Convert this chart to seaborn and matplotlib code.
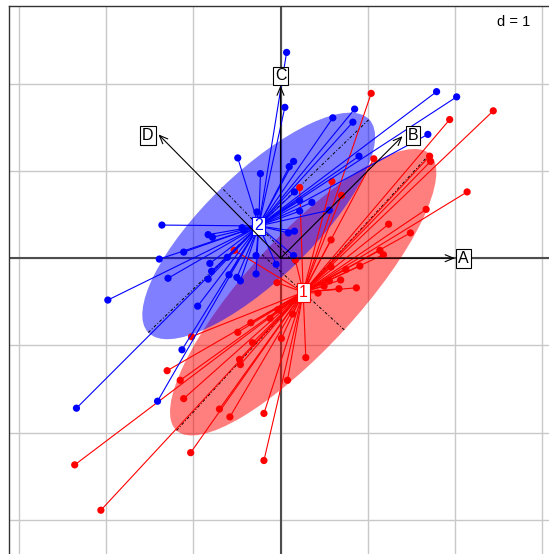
import numpy as np
import pandas as pd
import matplotlib
matplotlib.use("Agg")
import matplotlib.pyplot as plt
from matplotlib.patches import Ellipse
import seaborn as sns

# ---------------- data ----------------
group1_x = [1.04, 1.94, 2.44, 1.07, 1.71, 1.72, 0.59, 0.22, 2.14, 0.70,
            1.67, 1.24, 1.49, 0.58, 1.14, 1.18, 0.17, 0.91, 0.75, 0.58,
            0.69, 0.56, 0.50, 0.87, 0.67, 0.43, 0.14, -0.53, -0.04, -1.02,
            -1.30, -1.15, -1.11, -0.49, -0.34, -0.12, -0.03, -0.32, 0.01, -0.47,
            -0.46, 0.29, 0.08, -0.70, -0.58, -0.19, -2.36, -1.03, -0.19, -2.06]
group1_y = [1.89, 1.59, 1.69, 1.14, 1.17, 1.11, 0.88, 0.81, 0.76, 0.72,
            0.56, 0.39, 0.29, 0.21, 0.09, 0.04, -0.02, -0.09, -0.13, -0.10,
            -0.25, -0.26, -0.32, -0.34, -0.35, -0.40, -0.64, 0.09, -0.28, -0.90,
            -1.29, -1.40, -1.61, -0.85, -0.74, -0.69, -0.59, -0.97, -0.92, -1.16,
            -1.22, -1.14, -1.40, -1.73, -1.82, -1.78, -2.37, -2.23, -2.32, -2.89]

group2_x = [0.07, 0.05, 1.79, 2.02, 0.85, 0.60, 0.83, 1.69, 0.90, 0.15,
            0.10, 0.16, -0.49, -0.23, 0.22, 0.36, 0.22, 0.56, -0.27, 0.16,
            0.09, 0.15, -0.83, -0.78, -0.44, -0.42, -1.11, -0.61, -0.28, -0.05,
            -0.81, -0.59, -0.28, -0.79, -0.83, -0.50, -0.46, -1.36, -1.39, -1.29,
            -1.98, -0.95, -1.13, -1.41, -2.34]
group2_y = [2.36, 1.73, 1.91, 1.85, 1.71, 1.61, 1.56, 1.42, 1.17, 1.11,
            1.05, 0.76, 1.15, 0.97, 0.66, 0.64, 0.54, 0.55, 0.53, 0.31,
            0.29, 0.03, 0.27, 0.24, 0.35, 0.32, 0.07, 0.01, 0.03, -0.07,
            -0.06, -0.19, -0.18, -0.15, -0.24, -0.22, -0.26, 0.38, -0.01, -0.23,
            -0.48, -0.55, -1.05, -1.64, -1.72]

group_labels = ["1", "2"]
group_colors = ["#FF0000", "#0000FF"]
centroid_x = [0.26, -0.25]
centroid_y = [-0.39, 0.37]
ellipse_major = [2.15, 1.76]   # half-lengths
ellipse_minor = [0.64, 0.61]
ellipse_angle = [47.5, 44.0]   # degrees

arrow_labels = ["A", "B", "C", "D"]
arrow_x = [2.00, 1.40, 0.00, -1.40]
arrow_y = [0.00, 1.40, 1.98, 1.42]
arrow_label_x = [2.10, 1.52, 0.00, -1.52]
arrow_label_y = [0.00, 1.41, 2.09, 1.41]

grid_ticks = [-3, -2, -1, 0, 1, 2, 3]
scale_text = "d = 1"

# ---------------- figure ----------------
sns.set_style("white")
plt.rcParams["font.family"] = ["Liberation Sans", "DejaVu Sans"]

W, H = 549, 554
fig = plt.figure(figsize=(W / 100, H / 100), dpi=100)
fig.patch.set_facecolor("white")

# panel: left edge at px 9, top edge at px 6, right/bottom beyond canvas
left_px, top_px, right_px, bottom_px = 9.0, 6.0, 560.0, 565.0
ax = fig.add_axes([left_px / W, (H - bottom_px) / H,
                   (right_px - left_px) / W, (bottom_px - top_px) / H])
ox, oy, s = 280.5, 258.2, 87.2
ax.set_xlim((left_px - ox) / s, (right_px - ox) / s)
ax.set_ylim((oy - bottom_px) / s, (oy - top_px) / s)
ax.set_aspect("auto")

for sp in ["right", "bottom"]:
    ax.spines[sp].set_visible(False)
for sp in ["left", "top"]:
    ax.spines[sp].set_color("#333333")
    ax.spines[sp].set_linewidth(1.0)
ax.set_xticks([])
ax.set_yticks([])

for t in grid_ticks:
    ax.axvline(t, color="#C8C8C8", lw=1.0, zorder=0.5)
    ax.axhline(t, color="#C8C8C8", lw=1.0, zorder=0.5)
ax.axvline(0, color="#4D4D4D", lw=1.5, zorder=0.6)
ax.axhline(0, color="#4D4D4D", lw=1.5, zorder=0.6)

groups = [(group1_x, group1_y), (group2_x, group2_y)]
rows = []
for g, (xs, ys) in enumerate(groups):
    for xv, yv in zip(xs, ys):
        rows.append({"x": xv, "y": yv, "group": group_labels[g]})
df = pd.DataFrame(rows)

# ellipses and their axes
for g in range(2):
    e = Ellipse((centroid_x[g], centroid_y[g]),
                width=2 * ellipse_major[g], height=2 * ellipse_minor[g],
                angle=ellipse_angle[g], facecolor=group_colors[g],
                alpha=0.5, edgecolor="none", zorder=1 + 0.1 * g)
    ax.add_patch(e)
for g in range(2):
    th = np.deg2rad(ellipse_angle[g])
    for length, ang in [(ellipse_major[g], th), (ellipse_minor[g], th + np.pi / 2)]:
        dx, dy = length * np.cos(ang), length * np.sin(ang)
        ax.plot([centroid_x[g] - dx, centroid_x[g] + dx],
                [centroid_y[g] - dy, centroid_y[g] + dy],
                color="black", lw=0.7, ls=(0, (3, 2, 1, 2)), zorder=1.5)

# stars + points
for g, (xs, ys) in enumerate(groups):
    for xv, yv in zip(xs, ys):
        ax.plot([centroid_x[g], xv], [centroid_y[g], yv],
                color=group_colors[g], lw=0.8, zorder=2 + g)
    sub = df[df["group"] == group_labels[g]]
    sns.scatterplot(data=sub, x="x", y="y", color=group_colors[g], s=27,
                    edgecolor="none", linewidth=0, ax=ax, zorder=2.5 + g,
                    legend=False)

ax.set_xlabel("")
ax.set_ylabel("")

# centroid labels
for g in range(2):
    ax.text(centroid_x[g], centroid_y[g], group_labels[g], color=group_colors[g],
            fontsize=11.5, ha="center", va="center", zorder=6,
            bbox=dict(boxstyle="square,pad=0.12", facecolor="white",
                      edgecolor=group_colors[g], linewidth=0.8))

# arrows
for lab, xv, yv, lx, ly in zip(arrow_labels, arrow_x, arrow_y,
                               arrow_label_x, arrow_label_y):
    ax.annotate("", xy=(xv, yv), xytext=(0, 0),
                arrowprops=dict(arrowstyle="->,head_length=0.6,head_width=0.25",
                                color="black", lw=0.8, shrinkA=0, shrinkB=0,
                                mutation_scale=10),
                zorder=7)
    ax.text(lx, ly, lab, color="black", fontsize=11.5, ha="center", va="center",
            zorder=8,
            bbox=dict(boxstyle="square,pad=0.12", facecolor="white",
                      edgecolor="black", linewidth=0.8))

fig.text(514 / W, 1 - 22 / H, scale_text, fontsize=10.5, ha="center",
         va="center", color="black",
         bbox=dict(boxstyle="square,pad=0.2", facecolor="white", edgecolor="none"))

fig.savefig("out.png", dpi=100)
